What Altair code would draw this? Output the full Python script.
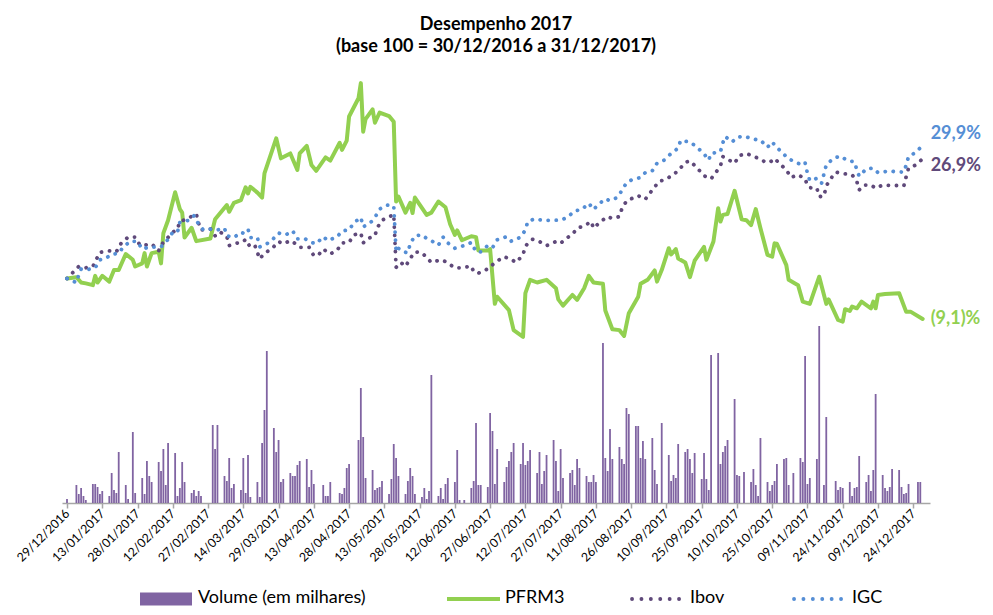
import altair as alt
import pandas as pd

# ---------------- data ----------------
base_date = "2016-12-29"          # day 0 of the offsets below

tick_labels = ["29/12/2016", "13/01/2017", "28/01/2017", "12/02/2017", "27/02/2017",
               "14/03/2017", "29/03/2017", "13/04/2017", "28/04/2017", "13/05/2017",
               "28/05/2017", "12/06/2017", "27/06/2017", "12/07/2017", "27/07/2017",
               "11/08/2017", "26/08/2017", "10/09/2017", "25/09/2017", "10/10/2017",
               "25/10/2017", "09/11/2017", "24/11/2017", "09/12/2017", "24/12/2017"]

series_names = ["Volume (em milhares)", "PFRM3", "Ibov", "IGC"]
series_colors = ["#8064A2", "#92D050", "#5F497A", "#558ED5"]
end_labels = {"PFRM3": "(9,1)%", "Ibov": "26,9%", "IGC": "29,9%"}

# (day offset, index base 100)
pfrm3 = [
    (0, 100.0), (4, 100.3), (6, 99.1), (8, 98.9), (11, 98.5), (12, 100.6), (13, 99.1), (15, 100.6),
    (18, 99.3), (20, 101.9), (22, 101.9), (25, 105.5), (28, 104.2), (29, 102.7), (32, 103.4),
    (33, 105.7), (34, 102.7), (36, 105.7), (39, 106.0), (40, 103.4), (41, 110.2), (43, 113.1),
    (46, 119.4), (48, 115.6), (49, 114.8), (50, 109.2), (53, 111.4), (55, 108.4), (61, 109.0),
    (63, 113.3), (68, 116.5), (69, 115.0), (71, 117.0), (74, 117.6), (76, 120.5), (77, 119.1),
    (78, 120.6), (81, 119.3), (83, 118.2), (84, 123.6), (89, 131.5), (91, 127.0), (95, 128.1),
    (98, 124.4), (99, 128.1), (102, 129.8), (104, 125.5), (106, 124.2), (110, 127.2), (112, 126.5),
    (116, 130.5), (117, 128.9), (119, 131.0), (120, 136.4), (124, 140.5), (125, 143.9), (126, 133.0),
    (127, 135.8), (130, 138.0), (131, 135.0), (133, 137.3), (137, 136.5), (139, 135.2), (140, 117.3),
    (141, 118.4), (144, 114.8), (146, 117.0), (147, 114.7), (148, 118.2), (153, 114.3), (155, 114.8),
    (158, 117.3), (161, 116.0), (163, 112.2), (165, 109.8), (166, 110.8), (168, 108.6), (172, 109.5),
    (174, 109.3), (175, 106.3), (179, 106.3), (180, 106.6), (182, 94.3), (183, 95.9), (188, 92.9),
    (190, 88.4), (194, 86.9), (195, 96.7), (197, 99.7), (200, 99.1), (204, 99.7), (208, 97.8),
    (209, 95.3), (211, 93.9), (215, 96.3), (217, 95.2), (220, 97.8), (222, 100.6), (224, 99.1),
    (228, 98.8), (229, 92.8), (232, 88.6), (235, 88.4), (237, 87.1), (239, 92.2), (243, 95.9),
    (244, 98.8), (247, 99.7), (250, 101.8), (251, 99.3), (253, 101.9), (256, 106.8), (257, 105.4),
    (259, 106.6), (260, 104.5), (263, 103.6), (265, 100.3), (267, 104.0), (271, 107.1), (272, 104.2),
    (275, 108.3), (277, 115.8), (278, 112.8), (279, 114.3), (281, 114.5), (284, 119.7), (287, 113.3),
    (289, 113.1), (291, 112.0), (293, 115.6), (295, 111.3), (298, 105.3), (300, 104.9), (301, 107.9),
    (302, 107.8), (306, 103.0), (307, 99.7), (311, 98.5), (313, 94.8), (316, 94.3), (320, 100.4),
    (323, 94.3), (324, 95.3), (328, 90.7), (330, 90.3), (331, 93.1), (333, 92.7), (334, 93.7),
    (336, 93.3), (338, 94.8), (342, 93.3), (343, 94.8), (344, 93.3), (345, 96.3), (348, 96.5),
    (354, 96.7), (357, 92.5), (359, 92.5), (364, 90.9)]

ibov = [
    (0, 100.0), (5, 102.7), (8, 102.4), (11, 102.7), (14, 105.9), (18, 106.2), (21, 106.0), (23, 107.9),
    (26, 109.3), (29, 109.3), (31, 107.5), (33, 107.5), (36, 107.8), (39, 106.2), (40, 107.5),
    (45, 110.4), (47, 111.1), (48, 112.8), (51, 113.4), (55, 114.5), (56, 112.4), (57, 110.9),
    (61, 111.1), (63, 109.6), (65, 110.5), (68, 109.4), (69, 107.4), (72, 107.9), (75, 108.3),
    (76, 108.8), (78, 107.0), (80, 107.3), (82, 104.4), (84, 105.7), (87, 106.6), (90, 108.3),
    (92, 107.8), (95, 108.5), (97, 107.9), (99, 107.0), (103, 107.0), (105, 105.1), (107, 105.3),
    (109, 106.6), (112, 105.5), (115, 106.4), (117, 108.0), (120, 108.1), (122, 109.8), (125, 110.2),
    (126, 108.0), (128, 109.0), (131, 109.6), (132, 111.4), (134, 113.1), (138, 114.1), (139, 114.4),
    (140, 102.5), (142, 103.6), (144, 102.7), (146, 104.5), (148, 106.0), (151, 105.8), (153, 104.7),
    (155, 103.6), (159, 104.2), (161, 103.8), (165, 102.4), (168, 102.4), (172, 102.8), (173, 101.5),
    (175, 101.2), (178, 101.9), (180, 102.5), (182, 103.6), (186, 104.9), (189, 104.3), (191, 103.6),
    (194, 105.3), (195, 107.3), (198, 108.8), (201, 108.3), (204, 107.4), (208, 108.3), (210, 107.9),
    (212, 108.9), (215, 109.9), (217, 111.3), (220, 111.8), (223, 112.8), (224, 111.3), (227, 112.8),
    (230, 113.9), (232, 113.5), (235, 113.9), (236, 115.6), (238, 117.4), (240, 117.9), (243, 118.6),
    (246, 117.8), (249, 119.9), (252, 121.9), (254, 122.1), (257, 123.0), (260, 124.2), (263, 126.1),
    (265, 126.4), (268, 124.9), (271, 123.1), (274, 122.4), (276, 123.8), (278, 125.3), (279, 127.4),
    (281, 126.8), (284, 125.9), (286, 127.6), (289, 128.1), (292, 127.5), (294, 127.0), (297, 126.2),
    (299, 126.1), (301, 127.0), (303, 125.9), (306, 124.4), (308, 122.7), (311, 123.3), (314, 122.4),
    (315, 120.9), (316, 120.4), (319, 120.3), (320, 118.4), (322, 118.5), (323, 120.8), (325, 122.5),
    (327, 123.9), (331, 123.5), (334, 123.3), (336, 121.8), (337, 119.9), (339, 121.0), (342, 121.0),
    (344, 120.3), (347, 121.0), (350, 120.9), (353, 120.9), (356, 120.8), (357, 122.9), (358, 124.8),
    (361, 125.5), (364, 126.9)]

igc = [
    (0, 100.0), (4, 99.1), (5, 100.8), (6, 102.1), (8, 101.9), (12, 102.4), (14, 104.2), (16, 104.4),
    (19, 105.4), (22, 105.7), (24, 107.1), (27, 108.4), (30, 108.3), (32, 106.6), (35, 107.1),
    (38, 107.0), (40, 107.1), (43, 108.8), (45, 110.4), (47, 110.4), (48, 112.6), (52, 113.1),
    (54, 114.1), (56, 112.2), (58, 110.9), (61, 111.1), (64, 110.9), (67, 111.3), (68, 109.6),
    (71, 109.2), (74, 110.4), (75, 110.2), (77, 111.1), (78, 109.2), (81, 109.2), (82, 107.1),
    (85, 107.8), (87, 108.5), (90, 110.2), (93, 109.8), (96, 110.7), (98, 108.9), (101, 109.0),
    (104, 108.1), (106, 107.8), (109, 109.4), (111, 108.5), (115, 109.4), (117, 110.7), (120, 110.9),
    (122, 112.5), (125, 113.7), (126, 111.6), (129, 112.5), (131, 113.7), (133, 115.6), (136, 116.5),
    (139, 116.3), (140, 106.0), (141, 106.8), (143, 106.0), (145, 105.8), (146, 107.8), (148, 109.6),
    (151, 109.8), (153, 109.0), (155, 108.5), (158, 107.5), (160, 109.3), (162, 108.0), (165, 106.8),
    (169, 107.4), (172, 108.1), (174, 106.0), (176, 106.0), (179, 107.4), (181, 106.9), (183, 108.7),
    (187, 109.4), (189, 108.4), (193, 109.3), (195, 110.9), (196, 112.8), (199, 113.4), (203, 113.0),
    (207, 113.1), (210, 113.1), (213, 113.8), (216, 115.2), (219, 115.5), (222, 116.9), (224, 115.5),
    (226, 116.6), (229, 117.9), (231, 117.5), (234, 118.2), (236, 119.7), (238, 121.5), (240, 122.1),
    (244, 122.7), (246, 123.8), (249, 124.2), (251, 125.9), (254, 126.6), (257, 128.1), (260, 129.3),
    (261, 131.0), (265, 130.7), (268, 129.5), (271, 128.0), (273, 126.6), (274, 128.1), (278, 128.5),
    (279, 130.5), (280, 131.9), (283, 130.7), (285, 131.7), (288, 132.0), (292, 131.3), (295, 131.1),
    (298, 129.5), (300, 130.7), (301, 130.0), (304, 128.4), (307, 126.9), (310, 126.1), (313, 125.5),
    (314, 126.0), (315, 123.6), (316, 122.0), (319, 122.5), (321, 121.4), (323, 125.5), (326, 127.0),
    (329, 127.5), (332, 126.5), (335, 126.2), (336, 124.4), (337, 123.0), (340, 124.6), (343, 124.8),
    (345, 123.8), (348, 124.0), (350, 124.2), (352, 124.0), (356, 123.9), (357, 125.5), (358, 127.4),
    (361, 128.3), (364, 129.9)]

# (day offset, volume in thousands - relative units)
volume = [
    (0, 4), (4, 18), (5, 9), (6, 15), (7, 7), (8, 3), (11, 19), (12, 19), (13, 16), (14, 9), (15, 12),
    (18, 7), (19, 30), (20, 13), (21, 10), (22, 51), (25, 18), (26, 4), (28, 71), (29, 10), (32, 25),
    (33, 9), (34, 42), (35, 27), (36, 21), (39, 41), (40, 32), (41, 54), (42, 18), (43, 60), (46, 50),
    (47, 7), (48, 15), (49, 41), (50, 21), (53, 10), (54, 13), (55, 7), (56, 12), (57, 7), (62, 78),
    (63, 54), (64, 78), (67, 27), (68, 22), (69, 45), (70, 15), (71, 19), (74, 13), (75, 45), (76, 10),
    (77, 48), (78, 6), (81, 21), (82, 6), (83, 60), (84, 93), (85, 152), (88, 75), (89, 51), (90, 63),
    (91, 21), (92, 24), (95, 30), (96, 27), (97, 27), (98, 38), (99, 42), (102, 44), (103, 16),
    (104, 33), (105, 19), (109, 18), (110, 7), (111, 7), (112, 21), (116, 10), (117, 9), (118, 15),
    (119, 35), (120, 39), (124, 63), (125, 115), (126, 66), (127, 25), (130, 33), (131, 13), (132, 15),
    (133, 16), (134, 22), (137, 9), (138, 24), (139, 59), (140, 45), (141, 27), (144, 9), (145, 22),
    (146, 35), (147, 27), (148, 9), (151, 6), (152, 15), (153, 4), (154, 12), (155, 128), (158, 7),
    (159, 15), (160, 4), (161, 19), (162, 25), (165, 21), (166, 53), (167, 3), (169, 3), (172, 15),
    (173, 22), (174, 80), (175, 18), (176, 18), (179, 16), (180, 90), (181, 72), (182, 19), (183, 54),
    (186, 21), (187, 36), (188, 42), (189, 51), (190, 60), (193, 39), (194, 60), (195, 38), (196, 42),
    (197, 53), (200, 30), (201, 51), (202, 19), (203, 32), (204, 48), (207, 63), (208, 42), (209, 12),
    (210, 54), (211, 25), (214, 30), (215, 33), (216, 18), (217, 44), (218, 35), (221, 27), (222, 21),
    (223, 21), (224, 28), (225, 21), (228, 160), (229, 45), (230, 32), (231, 74), (232, 44), (235, 56),
    (236, 44), (237, 39), (238, 95), (239, 89), (242, 77), (243, 77), (244, 45), (245, 62), (246, 44),
    (249, 65), (250, 33), (251, 19), (253, 80), (256, 48), (257, 22), (258, 28), (259, 25), (260, 59),
    (263, 51), (264, 54), (265, 44), (266, 30), (267, 50), (270, 24), (271, 50), (272, 24), (273, 13),
    (274, 148), (277, 150), (278, 39), (279, 51), (280, 57), (281, 63), (284, 104), (285, 28), (286, 27),
    (288, 31), (291, 21), (292, 34), (293, 18), (294, 7), (295, 65), (298, 21), (299, 12), (300, 18),
    (301, 22), (302, 39), (305, 44), (306, 45), (307, 18), (309, 30), (312, 45), (313, 41), (314, 147),
    (315, 19), (316, 25), (319, 44), (320, 177), (322, 18), (323, 86), (327, 22), (328, 13), (329, 16),
    (330, 15), (333, 21), (334, 7), (335, 15), (336, 16), (337, 47), (340, 21), (341, 28), (342, 12),
    (343, 33), (344, 109), (347, 28), (348, 15), (349, 12), (350, 16), (351, 34), (354, 33), (355, 16),
    (356, 9), (357, 10), (358, 19), (362, 21), (363, 21)]

# ---------------- build tables ----------------
b0 = pd.Timestamp(base_date)


def frame(pairs, col):
    return pd.DataFrame({"data": [b0 + pd.Timedelta(days=d) for d, _ in pairs],
                         col: [v for _, v in pairs]})


df_vol = frame(volume, "volume")
df_pf = frame(pfrm3, "valor")
df_ib = frame(ibov, "valor")
df_igc = frame(igc, "valor")

color_of = dict(zip(series_names, series_colors))
FONT = "Lato"


def dt(label):
    d, m, y = label.split("/")
    return alt.DateTime(year=int(y), month=int(m), date=int(d))


x_scale = alt.Scale(domain=[dt("29/12/2016"), dt("29/12/2017")], nice=False)
x_axis = alt.Axis(values=[dt(t) for t in tick_labels], format="%d/%m/%Y", title=None,
                  labelAngle=-45, labelAlign="right", labelBaseline="middle",
                  labelFont=FONT, labelFontSize=12.3, labelColor="#000000",
                  labelPadding=3, labelOverlap=False, labelFlush=False, labelBound=False,
                  domainColor="#A6A6A6", domainWidth=1.5, tickColor="#A6A6A6",
                  tickSize=5, tickWidth=1.5, grid=False)
xenc = alt.X("data:T", scale=x_scale, axis=x_axis)

y_idx = alt.Scale(domain=[49.55, 149.1], nice=False, zero=False)

bars = alt.Chart(df_vol).mark_bar(size=1.8, color=color_of["Volume (em milhares)"]).encode(
    x=xenc,
    y=alt.Y("volume:Q", scale=alt.Scale(domain=[0, 443], nice=False), axis=None))

line_pf = alt.Chart(df_pf).mark_line(color=color_of["PFRM3"], strokeWidth=4,
                                     strokeJoin="round", strokeCap="round").encode(
    x=xenc, y=alt.Y("valor:Q", scale=y_idx, axis=None))

line_ib = alt.Chart(df_ib).mark_line(color=color_of["Ibov"], strokeWidth=3.8,
                                     strokeDash=[0.1, 8], strokeCap="round").encode(
    x=xenc, y=alt.Y("valor:Q", scale=y_idx, axis=None))

line_igc = alt.Chart(df_igc).mark_line(color=color_of["IGC"], strokeWidth=3.8,
                                       strokeDash=[0.1, 8], strokeCap="round").encode(
    x=xenc, y=alt.Y("valor:Q", scale=y_idx, axis=None))


def end_label(df, name, dy):
    last = df.tail(1).assign(rotulo=end_labels[name])
    return alt.Chart(last).mark_text(align="left", baseline="middle", dx=8, dy=dy, font=FONT,
                                     fontWeight="bold", fontSize=18,
                                     color=color_of[name]).encode(
        x=xenc, y=alt.Y("valor:Q", scale=y_idx, axis=None), text="rotulo:N")


lab_igc = end_label(df_igc, "IGC", -11)
lab_ib = end_label(df_ib, "Ibov", 7)
lab_pf = end_label(df_pf, "PFRM3", 0)

# ---------------- legend (bottom, Excel style) ----------------
one = pd.DataFrame({"k": [0]})
SYM_Y = 539      # symbol centre, relative to plot top
TXT_Y = 543      # text baseline


def leg_text(x, name):
    return alt.Chart(one).mark_text(align="left", baseline="alphabetic", font=FONT, fontSize=18,
                                    color="#000000").encode(
        x=alt.value(x), y=alt.value(TXT_Y), text=alt.value(name))


leg = [
    alt.Chart(one).mark_rect(color=color_of["Volume (em milhares)"]).encode(
        x=alt.value(78), x2=alt.value(130), y=alt.value(SYM_Y - 6.5), y2=alt.value(SYM_Y + 6.5)),
    leg_text(136, "Volume (em milhares)"),
    alt.Chart(one).mark_rule(color=color_of["PFRM3"], strokeWidth=4).encode(
        x=alt.value(385), x2=alt.value(438), y=alt.value(SYM_Y)),
    leg_text(443, "PFRM3"),
    alt.Chart(one).mark_rule(color=color_of["Ibov"], strokeWidth=3.8, strokeDash=[0.1, 9.3],
                             strokeCap="round").encode(
        x=alt.value(570), x2=alt.value(620), y=alt.value(SYM_Y)),
    leg_text(628, "Ibov"),
    alt.Chart(one).mark_rule(color=color_of["IGC"], strokeWidth=3.8, strokeDash=[0.1, 9.3],
                             strokeCap="round").encode(
        x=alt.value(732), x2=alt.value(782), y=alt.value(SYM_Y)),
    leg_text(790, "IGC"),
]

chart = alt.layer(bars, line_pf, line_ib, line_igc, lab_igc, lab_ib, lab_pf, *leg).resolve_scale(
    y="independent"
).properties(
    width=868, height=443,
    background="white",
    autosize=alt.AutoSizeParams(type="none"),
    padding={"left": 54, "top": 52, "right": 55, "bottom": 104},
    title=alt.TitleParams(["Desempenho 2017", "(base 100 = 30/12/2016 a 31/12/2017)"],
                          font=FONT, fontSize=18, fontWeight="bold", color="#000000",
                          anchor="middle", offset=4, lineHeight=22),
).configure_view(stroke=None, strokeWidth=0)

chart.save("out.html", embed_options={"renderer": "svg", "actions": False})
